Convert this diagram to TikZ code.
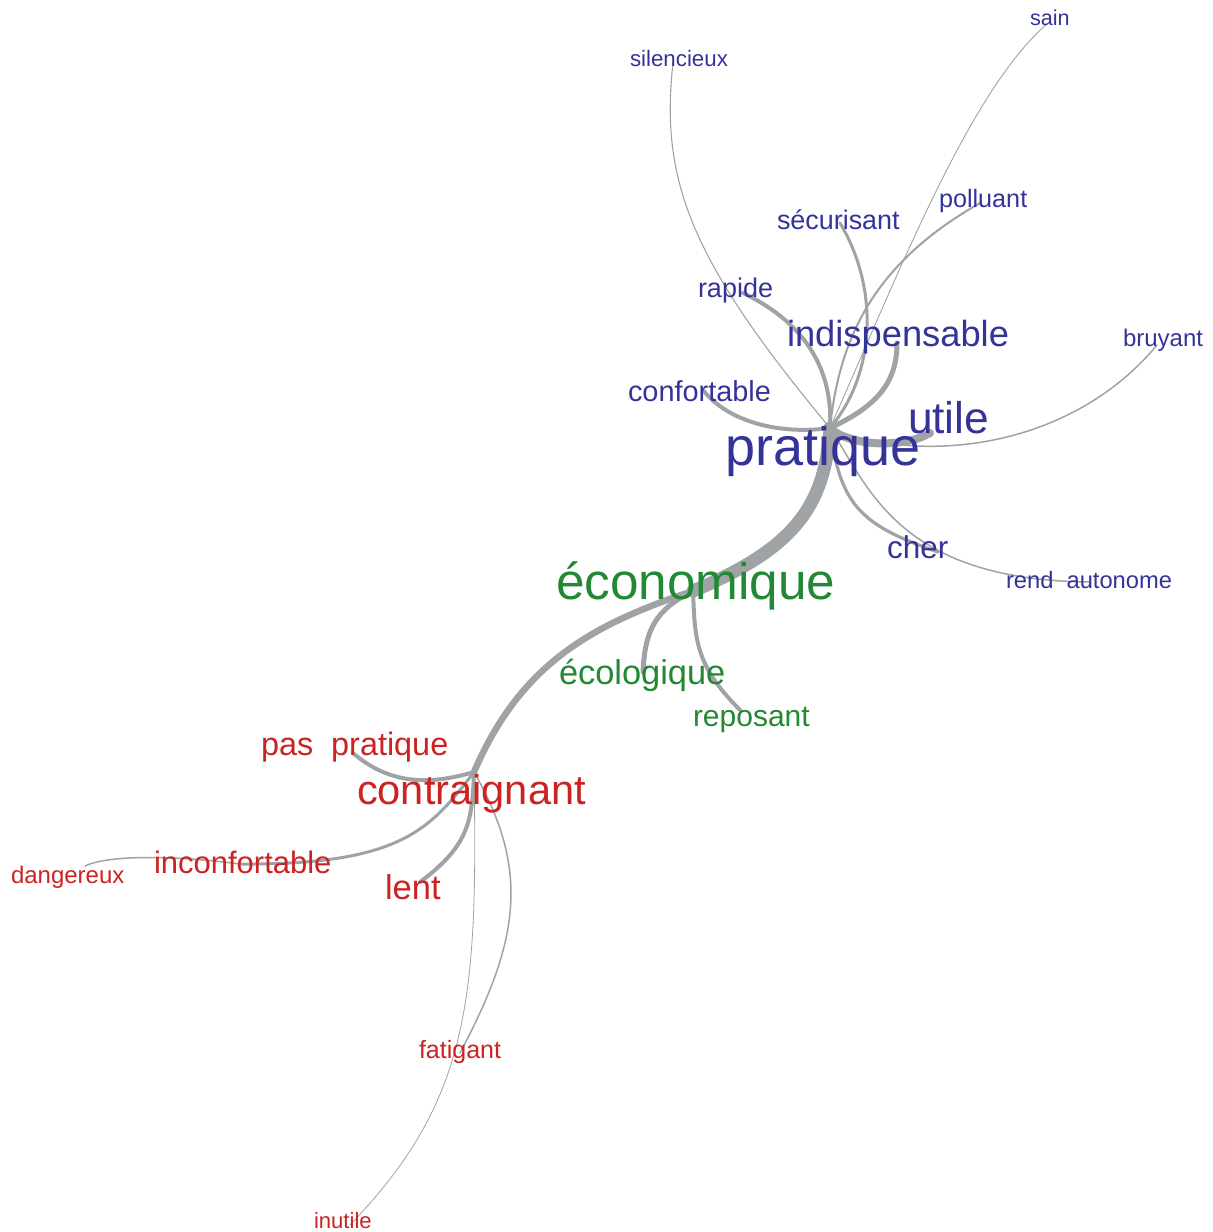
\documentclass[tikz,border=0pt]{standalone}
\usepackage{fontspec}
\setmainfont{Liberation Sans}
\definecolor{wblue}{RGB}{51,51,153}
\definecolor{wgreen}{RGB}{34,136,51}
\definecolor{wred}{RGB}{204,34,34}
\definecolor{egray}{RGB}{160,163,165}
\pgfdeclarelayer{edges}
\pgfsetlayers{edges,main}
\tikzset{
  word/.style={inner sep=0pt, outer sep=0pt, anchor=base west},
  fs/.style={font=\fontsize{#1pt}{#1pt}\selectfont},
  bw/.style={word, text=wblue},
  gw/.style={word, text=wgreen},
  rw/.style={word, text=wred},
  link/.style={draw=egray, line width=#1, line cap=round},
}
\begin{document}
\begin{tikzpicture}[x=1pt,y=-1pt]
\useasboundingbox (0,0) rectangle (1213,1232);
% ---- words ----
\node[bw, fs=54] (pratique) at (725,465) {pratique};
\node[bw, fs=44.3] (utile) at (908,433) {utile};
\node[bw, fs=36.3] (indisp) at (787,346) {indispensable};
\node[bw, fs=27] (rapide) at (698,297) {rapide};
\node[bw, fs=26.9] (securisant) at (777,229) {sécurisant};
\node[bw, fs=25.2] (polluant) at (939,207) {polluant};
\node[bw, fs=28.9] (confortable) at (628,401) {confortable};
\node[bw, fs=22.3] (silencieux) at (630,66) {silencieux};
\node[bw, fs=21.6] (sain) at (1030,25) {sain};
\node[bw, fs=24] (bruyant) at (1123,346) {bruyant};
\node[bw, fs=31.5] (cher) at (887,558) {cher};
\node[bw, fs=23.7] (autonome) at (1006,588) {rend~~autonome};
\node[gw, fs=51.3] (economique) at (556,599) {économique};
\node[gw, fs=34.4] (ecologique) at (559,684) {écologique};
\node[gw, fs=30] (reposant) at (693,726) {reposant};
\node[rw, fs=41.6] (contraignant) at (357,804) {contraignant};
\node[rw, fs=32.4] (paspratique) at (261,755) {pas~~pratique};
\node[rw, fs=31] (inconfortable) at (154,873) {inconfortable};
\node[rw, fs=24] (dangereux) at (11,883) {dangereux};
\node[rw, fs=34.5] (lent) at (385,899) {lent};
\node[rw, fs=25] (fatigant) at (419,1058) {fatigant};
\node[rw, fs=22.1] (inutile) at (314,1228) {inutile};
% ---- attachment points ----
\coordinate (P) at (830,428);
\coordinate (E) at (693,591);
\coordinate (C) at (474,772);
\coordinate (utile-a) at (930,433);
\coordinate (indisp-a) at (897,343);
\coordinate (rapide-a) at (743,293);
\coordinate (confortable-a) at (703,390);
\coordinate (securisant-a) at (840,223);
\coordinate (polluant-a) at (980,203);
\coordinate (sain-a) at (1048,23);
\coordinate (silencieux-a) at (673,63);
\coordinate (bruyant-a) at (1157,345);
\coordinate (cher-a) at (938,552);
\coordinate (autonome-a) at (1090,582);
\coordinate (ecologique-a) at (643,672);
\coordinate (reposant-a) at (740,710);
\coordinate (paspratique-a) at (353,753);
\coordinate (inconfortable-a) at (240,864);
\coordinate (dangereux-a) at (85,866);
\coordinate (lent-a) at (420,882);
\coordinate (fatigant-a) at (460,1053);
\coordinate (inutile-a) at (350,1225);
% ---- connectors ----
\begin{pgfonlayer}{edges}
\draw[link=13pt] (P) .. controls (825,510) and (790,550) .. (E);
\draw[link=6.5pt] (E) .. controls (590,625) and (520,665) .. (C);
\draw[link=8pt] (P) .. controls (850,447) and (905,448) .. (utile-a);
\draw[link=5pt] (P) .. controls (880,405) and (897,380) .. (indisp-a);
\draw[link=4pt] (P) .. controls (833,375) and (810,325) .. (rapide-a);
\draw[link=4pt] (P) .. controls (780,435) and (728,422) .. (confortable-a);
\draw[link=3pt] (P) .. controls (875,375) and (880,290) .. (securisant-a);
\draw[link=2pt] (P) .. controls (840,330) and (880,260) .. (polluant-a);
\draw[link=0.9pt] (P) .. controls (900,270) and (970,90) .. (sain-a);
\draw[link=1.1pt] (P) .. controls (690,260) and (660,180) .. (silencieux-a);
\draw[link=1.5pt] (P) .. controls (920,465) and (1070,450) .. (bruyant-a);
\draw[link=3.2pt] (P) .. controls (840,505) and (860,525) .. (cher-a);
\draw[link=1.5pt] (P) .. controls (870,490) and (900,580) .. (autonome-a);
\draw[link=5pt] (E) .. controls (655,610) and (645,630) .. (ecologique-a);
\draw[link=4pt] (E) .. controls (695,640) and (695,665) .. (reposant-a);
\draw[link=4pt] (C) .. controls (430,785) and (390,785) .. (paspratique-a);
\draw[link=3pt] (C) .. controls (430,830) and (400,865) .. (inconfortable-a);
\draw[link=1.5pt] (inconfortable-a) .. controls (180,856) and (110,854) .. (dangereux-a);
\draw[link=4pt] (C) .. controls (472,820) and (470,845) .. (lent-a);
\draw[link=1.5pt] (C) .. controls (530,870) and (520,940) .. (fatigant-a);
\draw[link=0.8pt] (C) .. controls (478,1000) and (470,1100) .. (inutile-a);
\end{pgfonlayer}
\end{tikzpicture}
\end{document}
